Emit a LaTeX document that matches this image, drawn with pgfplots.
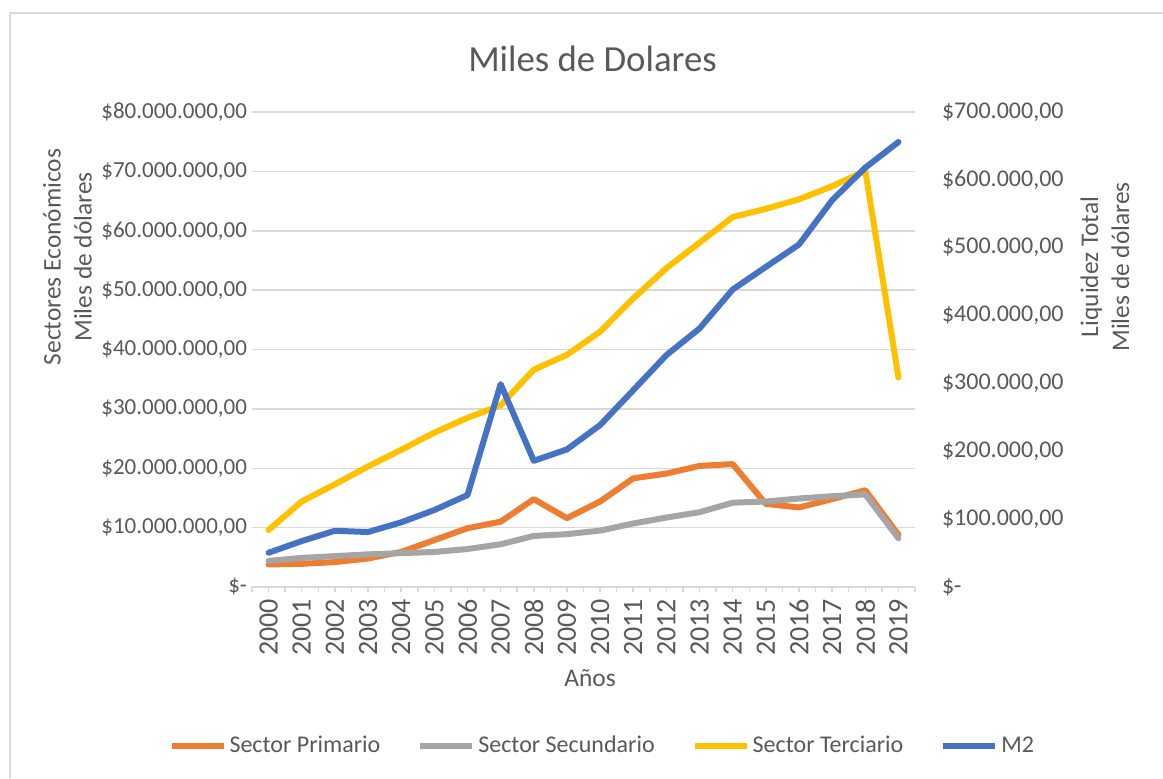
\documentclass[border=0pt]{standalone}
\usepackage{fontspec}
\setmainfont{Carlito}
\usepackage{pgfplots}
\usepackage{pgfplotstable}
\pgfplotsset{compat=1.18}

\definecolor{txt}{HTML}{595959}
\definecolor{gridc}{HTML}{D9D9D9}
\definecolor{cPrim}{HTML}{ED7D31}
\definecolor{cSec}{HTML}{A5A5A5}
\definecolor{cTer}{HTML}{FFC000}
\definecolor{cM2}{HTML}{4472C4}

% miles de dolares; i = 0 for 2000
\pgfplotstableread{
i  prim      sec       ter       m2
0  3800000   4400000   9600000   50500
1  3900000   4900000   14400000  67700
2  4200000   5200000   17300000  82900
3  4800000   5500000   20300000  81000
4  5900000   5700000   23100000  95300
5  7900000   5900000   26000000  113400
6  9900000   6400000   28500000  135500
7  11000000  7200000   30600000  299000
8  14800000  8600000   36600000  186000
9  11600000  8900000   39100000  202800
10 14400000  9500000   43000000  238600
11 18300000  10700000  48600000  290000
12 19100000  11700000  53700000  341700
13 20400000  12600000  58000000  381000
14 20700000  14200000  62300000  438400
15 14000000  14400000  63700000  471700
16 13400000  14900000  65300000  504700
17 14800000  15300000  67500000  570000
18 16300000  15600000  70100000  618000
19 8800000   8200000   35300000  655800
}\datos

\pgfplotsset{
    excelbase/.style = {
        scale only axis,
        width = 331.5bp, height = 237.5bp,
        xmin = -0.5, xmax = 19.5,
        ymin = 0,
        scaled y ticks = false,
        /pgf/number format/assume math mode = true,
        tick label style = {text = txt},
        y axis line style = {draw = none},
        ytick style = {draw = none},
    },
    serie/.style = {line width = 3bp, line join = round, line cap = round, no markers}
}

\begin{document}
% 1 unit = 1 pixel of the reference, origin at the plot area's lower left corner
\begin{tikzpicture}[x=0.5bp, y=0.5bp]
    \path[use as bounding box] (-252,-191) rectangle (911,587);
    \draw[gridc, line width=1bp] (-242,-191) -- (-242,574) -- (911,574);

    \begin{axis}[
        excelbase,
        ymax = 80000000,
        axis x line* = bottom,
        axis y line* = left,
        x axis line style = {gridc, line width = 0.75bp},
        ymajorgrids = true,
        grid style = {gridc, line width = 0.75bp},
        ytick = {0,10000000,...,80000000},
        yticklabels = {{\$-},{\$10.000.000,00},{\$20.000.000,00},{\$30.000.000,00},{\$40.000.000,00},{\$50.000.000,00},{\$60.000.000,00},{\$70.000.000,00},{\$80.000.000,00}},
        yticklabel style = {font = \fontsize{11.5bp}{11.5bp}\selectfont, anchor = east, xshift = 3.5bp},
        xtick = {0,...,19},
        xticklabels = {2000,2001,2002,2003,2004,2005,2006,2007,2008,2009,2010,2011,2012,2013,2014,2015,2016,2017,2018,2019},
        xticklabel style = {font = \fontsize{14bp}{14bp}\selectfont, rotate = 90, anchor = east},
        minor x tick num = 1,
        extra x ticks = {-0.5,19.5},
        extra x tick labels = {},
        tick align = outside,
        major tick length = 2.5bp,
        minor tick length = 2.5bp,
        x tick style = {gridc, line width = 0.75bp},
        legend columns = 4,
        legend style = {at = {(0.529,-0.3345)}, anchor = center, draw = none,
            font = \fontsize{12bp}{12bp}\selectfont, text = txt,
            nodes = {inner xsep = 1.5bp},
            /tikz/every odd column/.append style = {column sep = 0bp},
            /tikz/every even column/.append style = {column sep = 17bp}},
        legend image code/.code = {\draw[#1, line cap = butt] (0bp,0bp) -- (26bp,0bp);},
    ]
        \addplot[serie, color = cPrim] table[x = i, y = prim] {\datos};
        \addlegendentry{Sector Primario}
        \addplot[serie, color = cSec] table[x = i, y = sec] {\datos};
        \addlegendentry{Sector Secundario}
        \addplot[serie, color = cTer] table[x = i, y = ter] {\datos};
        \addlegendentry{Sector Terciario}
        \addlegendimage{serie, color = cM2}
        \addlegendentry{M2}
    \end{axis}

    \begin{axis}[
        excelbase,
        ymax = 700000,
        axis x line = none,
        axis y line* = right,
        ytick = {0,100000,...,700000},
        yticklabels = {{\$-},{\$100.000,00},{\$200.000,00},{\$300.000,00},{\$400.000,00},{\$500.000,00},{\$600.000,00},{\$700.000,00}},
        yticklabel style = {font = \fontsize{12bp}{12bp}\selectfont, anchor = west, xshift = 10bp},
    ]
        \addplot[serie, color = cM2] table[x = i, y = m2] {\datos};
    \end{axis}

    \node[text = txt, font = \fontsize{18.4bp}{18.4bp}\selectfont, anchor = base] at (340.5,515.3) {Miles de Dolares};
    \node[text = txt, font = \fontsize{12.7bp}{12.7bp}\selectfont] at (338,-91) {Años};
    \node[text = txt, rotate = 90, align = center, font = \fontsize{12.7bp}{15.5bp}\selectfont] at (-184.5,330) {Sectores Económicos\\Miles de dólares};
    \node[text = txt, rotate = 90, align = center, font = \fontsize{12.7bp}{15.5bp}\selectfont] at (853,320) {Liquidez Total\\Miles de dólares};
\end{tikzpicture}
\end{document}
